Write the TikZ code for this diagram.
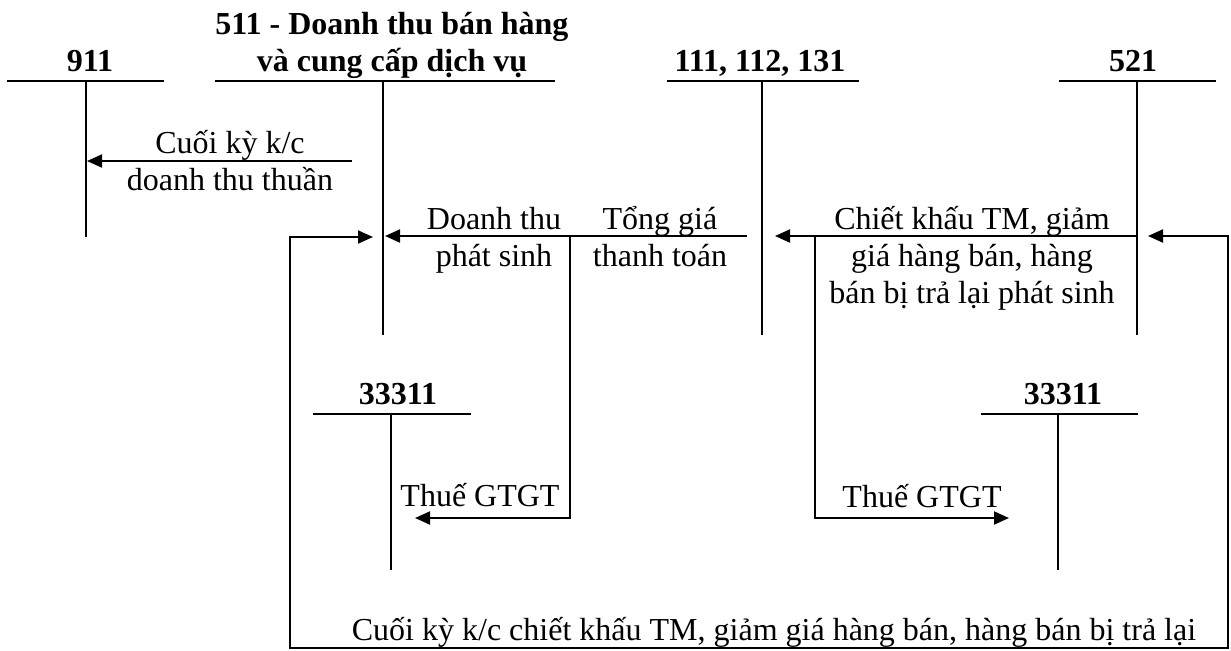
\documentclass[tikz,border=0pt]{standalone}
\usepackage{fontspec}
\setmainfont{Liberation Serif}
\usetikzlibrary{arrows.meta}
\begin{document}
\begin{tikzpicture}[x=0.5pt,y=-0.5pt,
  rule/.style={line width=1pt},
  tip/.tip={Triangle[length=7.5pt,width=6.5pt]},
  flow/.style={line width=1pt,-tip},
  twoway/.style={line width=1pt,tip-tip},
  lbl/.style={font=\fontsize{16}{18.5}\selectfont, inner sep=0pt, anchor=base, align=center},
  ttl/.style={lbl, font=\fontsize{16}{18.5}\selectfont\bfseries}]
\useasboundingbox (0,0) rectangle (1231,650);

% ---- T-account titles (a node's base is its last line)
\node[ttl] (t911) at (90,71) {911};
\node[ttl] (t511) at (392,71) {511 - Doanh thu bán hàng\\và cung cấp dịch vụ};
\node[ttl] (t111) at (760,71) {111, 112, 131};
\node[ttl] (t521) at (1133,71) {521};
\node[ttl] (t33a) at (398,404) {33311};
\node[ttl] (t33b) at (1063,404) {33311};

% ---- T-account rules: bar ends, stem top and stem foot
\coordinate (w911) at (7,81);    \coordinate (e911) at (164,81);
\coordinate (h911) at (86,81);   \coordinate (f911) at (86,237);
\coordinate (w511) at (215,81);  \coordinate (e511) at (555,81);
\coordinate (h511) at (383,81);  \coordinate (f511) at (383,335);
\coordinate (w111) at (667,81);  \coordinate (e111) at (859,81);
\coordinate (h111) at (762,81);  \coordinate (f111) at (762,335);
\coordinate (w521) at (1059,81); \coordinate (e521) at (1216,81);
\coordinate (h521) at (1137,81); \coordinate (f521) at (1137,335);
\coordinate (w33a) at (313,414); \coordinate (e33a) at (471,414);
\coordinate (h33a) at (391,414); \coordinate (f33a) at (391,570);
\coordinate (w33b) at (981,414); \coordinate (e33b) at (1138,414);
\coordinate (h33b) at (1058,414);\coordinate (f33b) at (1058,570);

\foreach \a in {911,511,111,521,33a,33b}{
  \draw[rule] (w\a) -- (e\a);
  \draw[rule] (h\a) -- (f\a);
}

% ---- entry points of the flows
\coordinate (k911a) at (352,161);  \coordinate (k911b) at (87,161);
\coordinate (s111)  at (747,236);  \coordinate (in511r) at (385,236);
\coordinate (j1)    at (570,236);  \coordinate (j1d) at (570,518);
\coordinate (vat1)  at (415,518);
\coordinate (s521)  at (1137,236); \coordinate (in111r) at (775,236);
\coordinate (j2)    at (815,236);  \coordinate (j2d) at (815,518);
\coordinate (vat2)  at (1009,518);
\coordinate (in521r) at (1148,236);
\coordinate (c1) at (1228,236); \coordinate (c2) at (1228,648);
\coordinate (c3) at (290,648);  \coordinate (c4) at (290,237);
\coordinate (in511l) at (373,237);

% ---- flows
\draw[flow] (k911a) -- (k911b);
\draw[flow] (s111) -- (in511r);
\draw[flow] (j1) -- (j1d) -- (vat1);
\draw[flow] (s521) -- (in111r);
\draw[flow] (j2) -- (j2d) -- (vat2);
\draw[twoway] (in521r) -- (c1) -- (c2) -- (c3) -- (c4) -- (in511l);

% ---- flow labels (placed at the baseline of their last line)
\node[lbl] (lkc)  at (230,190) {Cuối kỳ k/c\\doanh thu thuần};
\node[lbl] (ldt)  at (494,266) {Doanh thu\\phát sinh};
\node[lbl] (ltg)  at (660,266) {Tổng giá\\thanh toán};
\node[lbl] (lck)  at (972,303) {Chiết khấu TM, giảm\\giá hàng bán, hàng\\bán bị trả lại phát sinh};
\node[lbl] (lv1)  at (480,506) {Thuế GTGT};
\node[lbl] (lv2)  at (922,507) {Thuế GTGT};
\node[lbl] (lend) at (774,640) {Cuối kỳ k/c chiết khấu TM, giảm giá hàng bán, hàng bán bị trả lại};
\end{tikzpicture}
\end{document}
